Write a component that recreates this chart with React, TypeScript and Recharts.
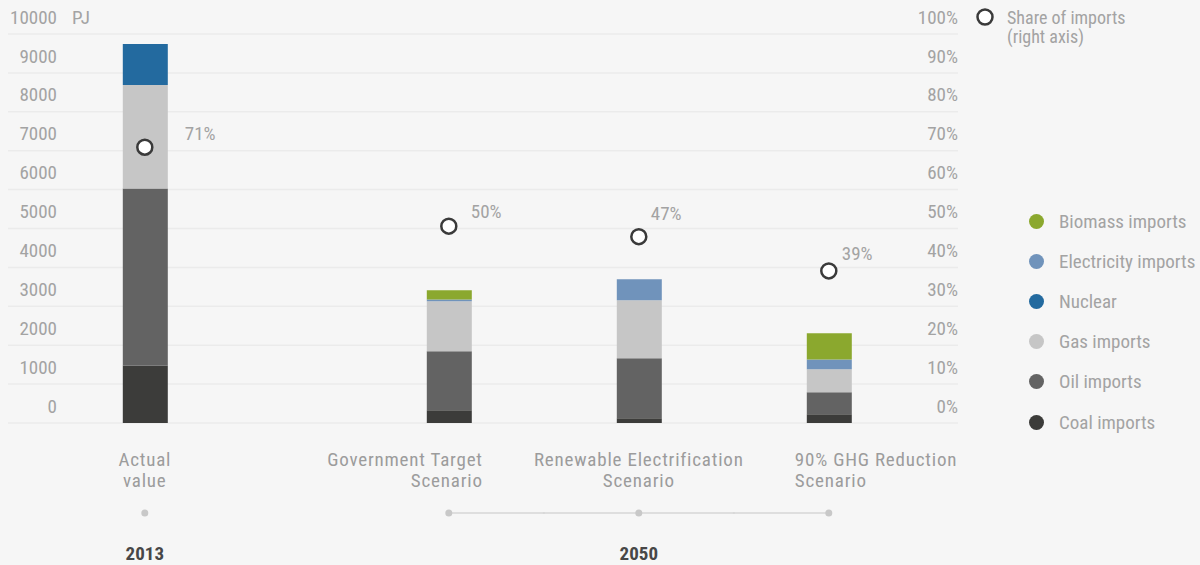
import React from 'react'
import { ComposedChart, Bar, Scatter, XAxis, YAxis, CartesianGrid, Legend } from 'recharts'

// categories (x) and their year group
const categories = ['Actual value', 'Government Target Scenario', 'Renewable Electrification Scenario', '90% GHG Reduction Scenario']
const categoryLines = [['Actual', 'value'], ['Government Target', 'Scenario'], ['Renewable Electrification', 'Scenario'], ['90% GHG Reduction', 'Scenario']]
const years = ['2013', '2050', '2050', '2050']

// PJ, stacked bottom to top
const coal = [1480, 330, 120, 225]
const oil = [4550, 1515, 1545, 565]
const gas = [2660, 1285, 1490, 590]
const nuclear = [1050, 0, 0, 0]
const electricity = [0, 45, 540, 250]
const biomass = [0, 240, 0, 675]

// share of imports, right axis
const share = [0.709, 0.506, 0.479, 0.391]
const shareLabels = ['71%', '50%', '47%', '39%']

const pjTicks = [0, 1000, 2000, 3000, 4000, 5000, 6000, 7000, 8000, 9000, 10000]
const pctTicks = [0, 0.1, 0.2, 0.3, 0.4, 0.5, 0.6, 0.7, 0.8, 0.9, 1]

const series = [
  { key: 'biomass', name: 'Biomass imports', color: '#8ba82e' },
  { key: 'electricity', name: 'Electricity imports', color: '#7093bb' },
  { key: 'nuclear', name: 'Nuclear', color: '#236a9f' },
  { key: 'gas', name: 'Gas imports', color: '#c6c6c6' },
  { key: 'oil', name: 'Oil imports', color: '#636363' },
  { key: 'coal', name: 'Coal imports', color: '#3c3c3a' },
]

// layout: horizontal slot of each category on the x scale
const slots = [0, 8, 13, 18]
const labelAnchor = ['middle', 'end', 'middle', 'start']
const labelShift = [0, 34, 0, -34]
// layout: share label offsets from the marker
const shareLabelDx = [40, 22, 12, 13]
const shareLabelDy = [-14, -15, -23, -18]

const FONT = "'Roboto Condensed', 'Liberation Sans Narrow', 'DejaVu Sans Condensed', sans-serif"
const GREY = '#a3a3a3'
const FS = 19

const data = categories.map((c, i) => ({
  name: c,
  idx: i,
  slot: slots[i],
  coal: coal[i],
  oil: oil[i],
  gas: gas[i],
  nuclear: nuclear[i],
  electricity: electricity[i],
  biomass: biomass[i],
  share: share[i],
}))

const LeftTick = (props: any) => {
  const { y, payload } = props
  return (
    <g>
      <text x={57} y={y - 17} dy="0.35em" textAnchor="end" fill={GREY} fontSize={FS} fontFamily={FONT}>
        {payload.value}
      </text>
      {payload.value === 10000 && (
        <text x={72} y={y - 17} dy="0.35em" fill={GREY} fontSize={FS} fontFamily={FONT}>PJ</text>
      )}
    </g>
  )
}

const RightTick = (props: any) => {
  const { y, payload } = props
  return (
    <text x={958} y={y - 17} dy="0.35em" textAnchor="end" fill={GREY} fontSize={FS} fontFamily={FONT}>
      {Math.round(payload.value * 100)}%
    </text>
  )
}

const CategoryTick = (props: any) => {
  const { x, payload } = props
  const i = slots.indexOf(payload.value)
  if (i < 0) return null
  const lines = categoryLines[i]
  const tx = x + labelShift[i]
  const prevSame = i > 0 && years[i - 1] === years[i]
  const nextSame = i < years.length - 1 && years[i + 1] === years[i]
  const groupIdx = years.map((y, k) => (y === years[i] ? k : -1)).filter((k) => k >= 0)
  const isGroupMid = groupIdx[Math.floor(groupIdx.length / 2)] === i
  return (
    <g fontFamily={FONT}>
      {lines.map((l, k) => (
        <text key={k} x={tx} y={459 + k * 21} dy="0.35em" textAnchor={labelAnchor[i] as any} fill="#9c9c9c" fontSize={FS} letterSpacing={0.8}>
          {l}
        </text>
      ))}
      {prevSame && <line x1={x - 96} x2={x} y1={513} y2={513} stroke="#d6d6d6" strokeWidth={1.5} />}
      {nextSame && <line x1={x} x2={x + 96} y1={513} y2={513} stroke="#d6d6d6" strokeWidth={1.5} />}
      <circle cx={x} cy={513} r={3.5} fill="#c8c8c8" />
      {isGroupMid && (
        <text x={x} y={553} dy="0.35em" textAnchor="middle" fill="#474747" fontSize={FS} fontWeight="bold">
          {years[i]}
        </text>
      )}
    </g>
  )
}

const ShareDot = (props: any) => {
  const { cx, cy, payload } = props
  const i = payload.idx
  return (
    <g>
      <circle cx={cx} cy={cy} r={7.5} fill="#ffffff" stroke="#3a3a3a" strokeWidth={2.5} />
      <text x={cx + shareLabelDx[i]} y={cy + shareLabelDy[i]} dy="0.35em" fill={GREY} fontSize={FS} fontFamily={FONT}>
        {shareLabels[i]}
      </text>
    </g>
  )
}

const LegendBox = () => (
  <div style={{ fontFamily: FONT, color: GREY, fontSize: FS, whiteSpace: 'nowrap' }}>
    <div style={{ position: 'absolute', left: 976, top: 8, lineHeight: '19px' }}>
      <svg width={18} height={18} style={{ position: 'absolute', left: 0, top: 0 }}>
        <circle cx={9} cy={9} r={7.5} fill="#fff" stroke="#3a3a3a" strokeWidth={2.5} />
      </svg>
      <div style={{ marginLeft: 31, fontSize: 18 }}>
        Share of imports
        <br />
        (right axis)
      </div>
    </div>
    {series.map((s, i) => (
      <div key={s.key} style={{ position: 'absolute', left: 1029, top: 209 + i * 40.2, height: 24, display: 'flex', alignItems: 'center' }}>
        <span style={{ width: 15, height: 15, borderRadius: '50%', background: s.color, display: 'inline-block' }} />
        <span style={{ marginLeft: 15 }}>{s.name}</span>
      </div>
    ))}
  </div>
)

export default function App() {
  return (
    <div style={{ position: 'absolute', left: 0, top: 0, width: 1200, height: 565, background: '#f6f6f6', overflow: 'hidden' }}>
      <ComposedChart width={1200} height={565} data={data} margin={{ top: 34, right: 241, bottom: 141, left: 7 }}>
        <CartesianGrid yAxisId="pj" vertical={false} stroke="#ebebeb" strokeWidth={1.5} />
        <XAxis
          dataKey="slot"
          type="number"
          domain={[-3.6, 21.4]}
          ticks={slots}
          interval={0}
          height={1}
          axisLine={false}
          tickLine={false}
          tick={<CategoryTick />}
        />
        <YAxis yAxisId="pj" width={1} domain={[0, 10000]} ticks={pjTicks} interval={0} axisLine={false} tickLine={false} tick={<LeftTick />} />
        <YAxis yAxisId="pct" orientation="right" width={1} domain={[0, 1]} ticks={pctTicks} interval={0} axisLine={false} tickLine={false} tick={<RightTick />} />
        {[...series].reverse().map((s) => (
          <Bar key={s.key} yAxisId="pj" dataKey={s.key} name={s.name} stackId="a" fill={s.color} barSize={45} isAnimationActive={false} />
        ))}
        <Scatter yAxisId="pct" dataKey="share" name="Share of imports (right axis)" shape={<ShareDot />} isAnimationActive={false} />
        <Legend content={<LegendBox />} wrapperStyle={{ position: 'absolute', left: 0, top: 0, width: 0, height: 0 }} />
      </ComposedChart>
    </div>
  )
}
